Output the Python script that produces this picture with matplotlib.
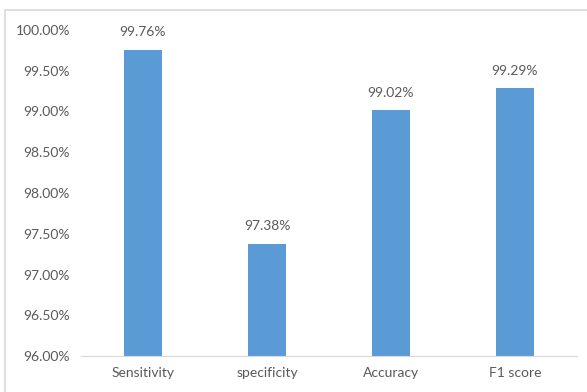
import matplotlib
matplotlib.use("Agg")
import matplotlib.pyplot as plt
from matplotlib.patches import Rectangle
from matplotlib.ticker import FuncFormatter

categories = ["Sensitivity", "specificity", "Accuracy", "F1 score"]
values = [99.76, 97.38, 99.02, 99.29]
yticks = [96.0, 96.5, 97.0, 97.5, 98.0, 98.5, 99.0, 99.5, 100.0]

plt.rcParams['font.family'] = ['Lato', 'DejaVu Sans']
text_color = '#595959'

fig = plt.figure(figsize=(5.87, 3.92), dpi=100)
ax = fig.add_axes([81 / 587, 1 - 356 / 392, 496 / 587, 326 / 392])

# outer chart border
fig.patches.append(Rectangle((5 / 587, -0.05), 1.1, 1 - 10 / 392 + 0.05,
                             transform=fig.transFigure, fill=False,
                             edgecolor='#d9d9d9', linewidth=1.2))

x = range(len(categories))
bars = ax.bar(x, values, width=0.31, color='#5B9BD5', bottom=0)
ax.set_xlim(-0.5, len(categories) - 0.5)
ax.set_ylim(96, 100)
ax.set_yticks(yticks)
ax.yaxis.set_major_formatter(FuncFormatter(lambda v, p: f"{v:.2f}%"))
ax.set_xticks(list(x))
ax.set_xticklabels(categories)

for b, v in zip(bars, values):
    ax.annotate(f"{v:.2f}%", (b.get_x() + b.get_width() / 2, v),
                xytext=(0, 8), textcoords='offset points',
                ha='center', va='bottom', fontsize=10, color=text_color)

for s in ['top', 'right', 'left']:
    ax.spines[s].set_visible(False)
ax.spines['bottom'].set_color('#d9d9d9')
ax.tick_params(axis='both', length=0, labelsize=10, labelcolor=text_color)
ax.tick_params(axis='x', pad=8)
ax.tick_params(axis='y', pad=8)

fig.savefig("out.png", dpi=100)
